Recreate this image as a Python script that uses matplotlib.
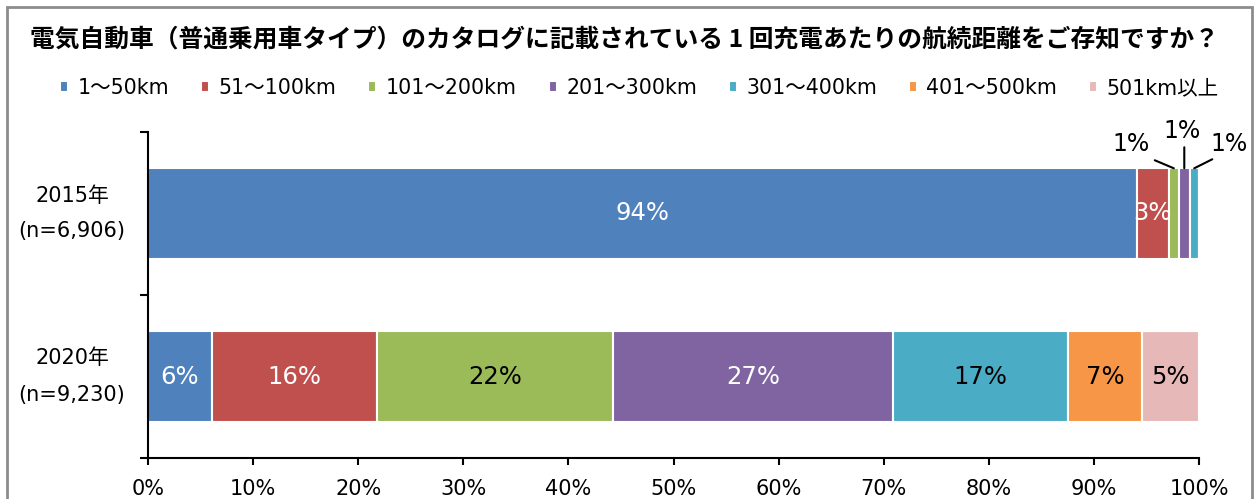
import numpy as np
import matplotlib
matplotlib.use('Agg')
import matplotlib.pyplot as plt
from matplotlib.patches import Rectangle

plt.rcParams['font.family'] = ['DejaVu Sans', 'Noto Sans CJK JP']

years = ['2020年\n(n=9,230)', '2015年\n(n=6,906)']
ranges = ['1～50km', '51～100km', '101～200km', '201～300km',
          '301～400km', '401～500km', '501km以上']
# share (%) per range, rows follow `years`
v2020 = [6.1, 15.7, 22.4, 26.7, 16.6, 7.1, 5.4]
v2015 = [94.1, 3.0, 1.0, 1.0, 0.9, 0.0, 0.0]
colors = ['#4F81BD', '#C0504D', '#9BBB59', '#8064A2', '#4BACC6', '#F79646', '#E6B9B8']
txt_colors = ['white', 'white', 'black', 'white', 'black', 'black', 'black']

data = np.array([v2020, v2015])
fig = plt.figure(figsize=(12.6, 4.99), dpi=100)
ax = fig.add_axes([148/1260, 1-458/499, (1199-148)/1260, (458-132)/499])

ypos = np.arange(len(years))
h = 0.555
left = np.zeros(len(years))
for i, name in enumerate(ranges):
    vals = data[:, i]
    ax.barh(ypos, vals, left=left, height=h, color=colors[i], edgecolor='white',
            linewidth=1.5, label=name)
    for j in range(len(years)):
        if vals[j] >= 2:
            ax.text(left[j] + vals[j]/2, ypos[j], f'{round(vals[j]):.0f}%',
                    ha='center', va='center', fontsize=17.5, color=txt_colors[i])
    left += vals

# small 2015 segments: leader line + label (pixel offsets from bar top)
callouts = {2: ((-19, 8), (-43, 24)), 3: ((0, 21), (-2, 37)), 4: ((18, 9), (35, 24))}
cum = np.cumsum(v2015)
for i, (lend, toff) in callouts.items():
    xc = cum[i] - v2015[i]/2
    ax.annotate('', xy=(xc, 1 + h/2), xytext=lend, textcoords='offset pixels',
                annotation_clip=False,
                arrowprops=dict(arrowstyle='-', color='black', lw=1.5,
                                shrinkA=0, shrinkB=0))
    ax.annotate(f'{round(v2015[i]):.0f}%', xy=(xc, 1 + h/2), xytext=toff,
                textcoords='offset pixels', ha='center', va='center', fontsize=17,
                annotation_clip=False)

ax.set_xlim(0, 100)
ax.set_ylim(-0.5, 1.5)
ax.set_xticks(np.arange(0, 101, 10))
ax.set_xticklabels([f'{t}%' for t in range(0, 101, 10)])
ax.set_yticks([])
ax.set_yticks([-0.5, 0.5, 1.5], minor=True)
ax.tick_params(axis='y', which='minor', length=6, width=1.5, direction='out')
ax.tick_params(axis='x', length=5, width=1.5, labelsize=15, pad=10)
for j, lab in enumerate(years):
    ax.text(-0.0723, ypos[j], lab, transform=ax.get_yaxis_transform(),
            ha='center', va='center', multialignment='center', fontsize=15,
            linespacing=2.0)
for s in ['top', 'right']:
    ax.spines[s].set_visible(False)
for s in ['left', 'bottom']:
    ax.spines[s].set_linewidth(1.5)

fig.text(30/1260, 1-40/499, '電気自動車（普通乗用車タイプ）のカタログに記載されている 1 回充電あたりの航続距離をご存知ですか？',
         fontsize=17.8, fontweight='bold', va='center', ha='left',
         family=['Noto Sans CJK JP', 'DejaVu Sans'])

fig.legend(loc='center', bbox_to_anchor=(0.5075, 1-88/499), ncol=7, frameon=False,
           fontsize=14.8, handlelength=0.4, handleheight=0.4, handletextpad=0.45,
           columnspacing=1.55)

fig.patches.append(Rectangle((7/1260, -0.1), (1252-7)/1260, 1.1-7/499,
                             transform=fig.transFigure, fill=False,
                             edgecolor='#8c8c8c', linewidth=2))

fig.savefig('out.png', dpi=100)
